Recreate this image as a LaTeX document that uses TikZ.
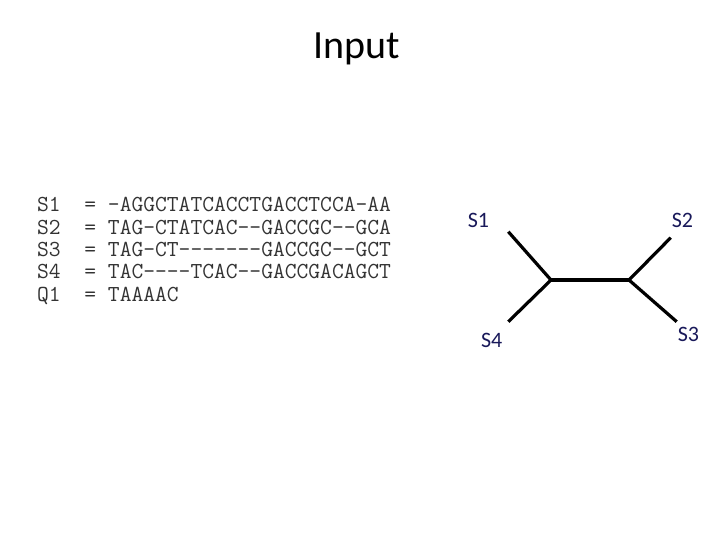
\documentclass[tikz,border=0pt]{standalone}
\usepackage{fontspec}
\setmainfont{Carlito}
\begin{document}
\begin{tikzpicture}[x=1pt,y=1pt,
  seqrow/.style={anchor=base west,inner sep=0pt,font=\ttfamily\fontsize{22.9}{24}\selectfont,text=black!80},
  leaflabel/.style={anchor=base,inner sep=0pt,font=\fontsize{22}{23}\selectfont,text={rgb,255:red,25;green,25;blue,90}},
  branch/.style={line width=3.2pt,black}]
\useasboundingbox (0,0) rectangle (720,-540);
\node[anchor=base,inner sep=0pt,font=\fontsize{40}{44}\selectfont] (title) at (356.5,-58.3) {Input};
\node[seqrow] (r1) at (37,-211.7) {S1~~=~-AGGCTATCACCTGACCTCCA-AA};
\node[seqrow] (r2) at (37,-234.1) {S2~~=~TAG-CTATCAC--GACCGC--GCA};
\node[seqrow] (r3) at (37,-256.5) {S3~~=~TAG-CT-------GACCGC--GCT};
\node[seqrow] (r4) at (37,-278.9) {S4~~=~TAC----TCAC--GACCGACAGCT};
\node[seqrow] (r5) at (37,-301.3) {Q1~~=~TAAAAC};
\node[leaflabel] (s1) at (478.5,-228) {S1};
\node[leaflabel] (s2) at (682.5,-228) {S2};
\node[leaflabel] (s4) at (491.7,-347) {S4};
\node[leaflabel] (s3) at (688.5,-341.7) {S3};
\coordinate (j1) at (551,-280);
\coordinate (j2) at (629,-280);
\coordinate (e1) at (508.3,-231.7);
\coordinate (e4) at (508.3,-321.7);
\coordinate (e2) at (670.7,-237.7);
\coordinate (e3) at (676.7,-321.7);
\draw[branch] (e1) -- (j1) -- (e4);
\draw[branch] (j1) -- (j2);
\draw[branch] (e2) -- (j2) -- (e3);
\end{tikzpicture}
\end{document}
